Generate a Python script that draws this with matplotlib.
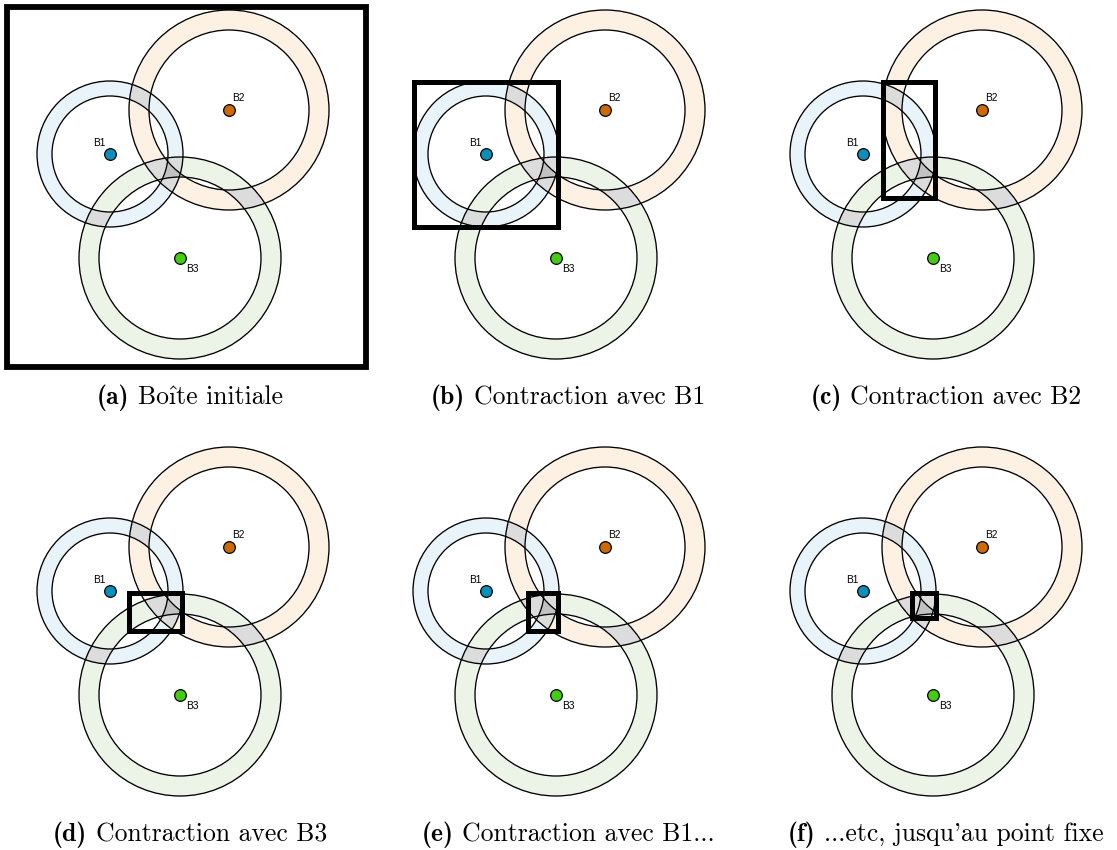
import numpy as np
import matplotlib
matplotlib.use("Agg")
import matplotlib.pyplot as plt
from matplotlib.patches import Circle, Rectangle

# balises : centre (x, y), rayon interieur / exterieur de l'anneau
names = ["B1", "B2", "B3"]
cx = [110, 229, 180]
cy = [154, 110, 258]
r_in = [58, 80, 81]
r_out = [73, 100, 101]
ring_colors = ["#e8f4fa", "#fdf1e4", "#ebf4e7"]
dot_colors = ["#0a8fb8", "#cc6a06", "#44cc10"]
label_dx = [-11, 9, 12]
label_dy = [-11, -12, 11]

# boites successives (x0, y0, x1, y1) apres chaque contraction
boxes = [
    (7, 7, 366, 367),
    (38, 82, 182, 227),
    (130, 82, 182, 198),
    (129, 156, 182, 194),
    (152, 156, 182, 194),
    (159, 156, 183, 181),
]
box_lw = [4.2, 3.6, 3.6, 3.6, 3.6, 3.6]
# dans cmr10 (BaKoMa), le i sans point est range au code 0xB3
DOTLESS_I = "\xb3"
captions = [
    ("(a)", "Bo" + DOTLESS_I + "te initiale"),
    ("(b)", "Contraction avec B1"),
    ("(c)", "Contraction avec B2"),
    ("(d)", "Contraction avec B3"),
    ("(e)", "Contraction avec B1..."),
    ("(f)", "...etc, jusqu'au point fixe"),
]

W, H = 1117, 850
col_off = [0, 376, 753]
row_off = [0, 437]
pw, ph = 372, 375
cap_x = [190, 568, 946]
cap_base = [404, 841]
cap_fs = 18.5

# remplissage des anneaux : couleur propre, gris si recouvrement
res = 3
xs = (np.arange(pw * res) + 0.5) / res
ys = (np.arange(ph * res) + 0.5) / res
X, Y = np.meshgrid(xs, ys)
count = np.zeros(X.shape, int)
which = np.full(X.shape, -1)
for i in range(3):
    d = np.hypot(X - cx[i], Y - cy[i])
    m = (d >= r_in[i]) & (d <= r_out[i])
    count += m
    which[m] = i
img = np.ones(X.shape + (4,))
img[..., 3] = 0
for i in range(3):
    sel = (count == 1) & (which == i)
    img[sel] = matplotlib.colors.to_rgba(ring_colors[i])
img[count == 2] = matplotlib.colors.to_rgba("#dcdcdc")
img[count == 3] = matplotlib.colors.to_rgba("#c2c2c2")

fig = plt.figure(figsize=(W / 100, H / 100), dpi=100)
renderer = fig.canvas.get_renderer()


def caption(xc, ybase, label, body):
    y = 1 - ybase / H
    t1 = fig.text(0, y, label, family="cmb10", fontsize=cap_fs, va="baseline")
    t2 = fig.text(0, y, body, family="cmr10", fontsize=cap_fs, va="baseline")
    w1 = t1.get_window_extent(renderer).width
    w2 = t2.get_window_extent(renderer).width
    gap = cap_fs * 0.33 * 100 / 72
    left = xc - (w1 + gap + w2) / 2
    t1.set_x(left / W)
    t2.set_x((left + w1 + gap) / W)
    if DOTLESS_I in body:
        # accent circonflexe pose sur le i sans point
        k = body.index(DOTLESS_I)
        pre = fig.text(0, y, body[:k], family="cmr10", fontsize=cap_fs)
        wp = pre.get_window_extent(renderer).width
        ch = fig.text(0, y, DOTLESS_I, family="cmr10", fontsize=cap_fs)
        wi = ch.get_window_extent(renderer).width
        pre.remove()
        ch.remove()
        fig.text((left + w1 + gap + wp + wi / 2) / W, y, "^", family="cmr10",
                 fontsize=cap_fs, ha="center", va="baseline")


for k in range(6):
    r, c = divmod(k, 3)
    x0, y0 = col_off[c], row_off[r]
    ax = fig.add_axes([x0 / W, 1 - (y0 + ph) / H, pw / W, ph / H])
    ax.set_xlim(0, pw)
    ax.set_ylim(ph, 0)
    ax.axis("off")
    ax.imshow(img, extent=(0, pw, ph, 0), interpolation="nearest", zorder=1)
    for i in range(3):
        for rad in (r_in[i], r_out[i]):
            ax.add_patch(Circle((cx[i], cy[i]), rad, fill=False, ec="black", lw=0.95, zorder=2))
        ax.plot(cx[i], cy[i], "o", ms=8.4, mfc=dot_colors[i], mec="black", mew=0.9, zorder=4)
        ax.text(cx[i] + label_dx[i], cy[i] + label_dy[i], names[i], fontsize=7.3,
                family="Liberation Sans", ha="center", va="center", zorder=4)
    bx0, by0, bx1, by1 = boxes[k]
    ax.add_patch(Rectangle((bx0, by0), bx1 - bx0, by1 - by0, fill=False, ec="black",
                           lw=box_lw[k], joinstyle="miter", zorder=5))
    caption(cap_x[c], cap_base[r], *captions[k])

fig.savefig("out.png", dpi=100)
